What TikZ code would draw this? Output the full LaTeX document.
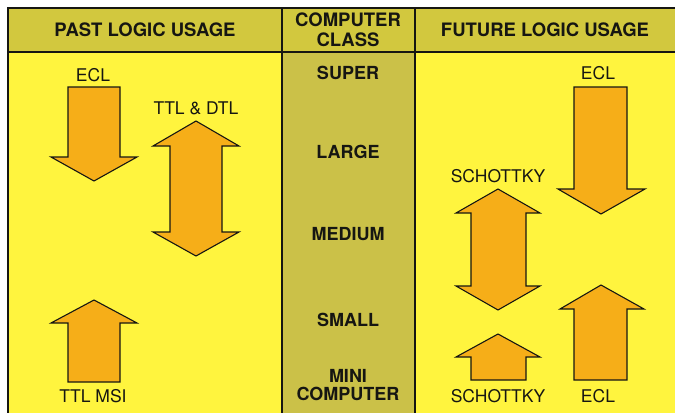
\documentclass[tikz,border=0pt]{standalone}
\usepackage{fontspec}
\setmainfont{TeX Gyre Heros}
\usepackage{tikz}

\definecolor{hdrolive}{RGB}{210,200,62}
\definecolor{midolive}{RGB}{203,193,72}
\definecolor{sideyellow}{RGB}{255,244,62}
\definecolor{arrowgold}{RGB}{246,174,24}
\definecolor{inkdark}{RGB}{22,22,18}

\begin{document}
\begin{tikzpicture}[
    x=1pt, y=-1pt,
    rule/.style={draw=inkdark, line width=1.4pt},
    fatarrow/.style={draw=inkdark, line width=1.1pt, fill=arrowgold, line join=miter},
    head/.style={text=inkdark, font=\bfseries\fontsize{18.5}{19.5}\selectfont, align=center, inner sep=0pt},
    cls/.style={text=inkdark, font=\bfseries\fontsize{18}{18}\selectfont, align=center, inner sep=0pt},
    tag/.style={text=inkdark, font=\fontsize{17.5}{18}\selectfont, inner sep=0pt},
]
\useasboundingbox (0,0) rectangle (675,413);

% panels
\fill[hdrolive] (8,8) rectangle (675,52);
\fill[sideyellow] (8,52) rectangle (282,413);
\fill[midolive] (282,52) rectangle (415,413);
\fill[sideyellow] (415,52) rectangle (675,413);

% rules
\draw[rule] (675,8) -- (8,8) -- (8,413);
\draw[rule] (8,52) -- (675,52);
\draw[rule] (282,8) -- (282,413);
\draw[rule] (415,8) -- (415,413);

% header
\node[head] (hdpast) at (145,30) {PAST LOGIC USAGE};
\node[head] (hdclass) at (348,30) {COMPUTER\\CLASS};
\node[head] (hdfuture) at (545,30) {FUTURE LOGIC USAGE};

% computer classes
\node[cls] (super) at (348,73) {SUPER};
\node[cls] (large) at (348,152) {LARGE};
\node[cls] (medium) at (348,234) {MEDIUM};
\node[cls] (small) at (348,320) {SMALL};
\node[cls] (mini) at (348,385) {MINI\\COMPUTER};

% past logic usage
\draw[fatarrow] (68,87) -- (120,87) -- (120,157) -- (137,157) -- (94,181) -- (51,157) -- (68,157) -- cycle;
\node[tag] (eclpast) at (93,75) {ECL};
\draw[fatarrow] (196,121) -- (239,146) -- (222,146) -- (222,232) -- (239,232) -- (196,256)
    -- (153,232) -- (170,232) -- (170,146) -- (153,146) -- cycle;
\node[tag] (ttldtl) at (196,108) {TTL \& DTL};
\draw[fatarrow] (68,382) -- (120,382) -- (120,323) -- (137,323) -- (94,300) -- (51,323) -- (68,323) -- cycle;
\node[tag] (ttlmsi) at (93,396) {TTL MSI};

% future logic usage
\draw[fatarrow] (574,87) -- (627,87) -- (627,189) -- (645,189) -- (601,214) -- (558,189) -- (574,189) -- cycle;
\node[tag] (eclfut) at (598,73) {ECL};
\draw[fatarrow] (498,189) -- (540,213) -- (526,213) -- (526,286) -- (540,286) -- (498,310)
    -- (456,286) -- (471,286) -- (471,213) -- (456,213) -- cycle;
\node[tag] (schtop) at (498,176) {SCHOTTKY};
\draw[fatarrow] (471,380) -- (526,380) -- (526,357) -- (540,357) -- (498,334) -- (456,357) -- (471,357) -- cycle;
\node[tag] (schbot) at (498,396) {SCHOTTKY};
\draw[fatarrow] (574,380) -- (627,380) -- (627,309) -- (644,309) -- (601,285) -- (560,309) -- (574,309) -- cycle;
\node[tag] (eclbot) at (598,396) {ECL};
\end{tikzpicture}
\end{document}
